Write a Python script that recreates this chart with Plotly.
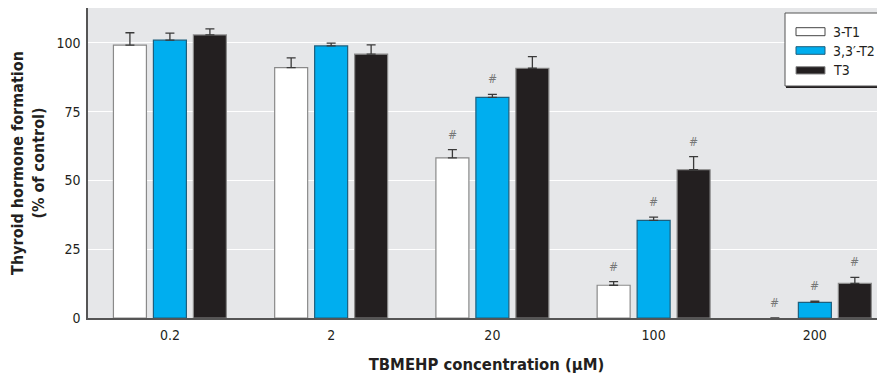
import plotly.graph_objects as go

categories = ["0.2", "2", "20", "100", "200"]
series_names = ["3-T1", "3,3′-T2", "T3"]
t1_values = [99.2, 91.0, 58.2, 11.9, 0.0]
t1_errors = [4.5, 3.6, 3.0, 1.3, None]
t2_values = [101.0, 98.9, 80.2, 35.5, 5.7]
t2_errors = [2.6, 1.0, 1.1, 1.2, 0.4]
t3_values = [102.9, 95.9, 90.8, 53.9, 12.6]
t3_errors = [2.2, 3.4, 4.2, 4.8, 2.2]
t1_sig = [False, False, True, True, True]
t2_sig = [False, False, True, True, True]
t3_sig = [False, False, False, True, True]
y_ticks = [0, 25, 50, 75, 100]

FONT = "DejaVu Sans Condensed, Liberation Sans Narrow, Roboto, sans-serif"
fills = ["#ffffff", "#00aeef", "#231f20"]
outlines = ["#8a8a8a", "#1d5f7d", "#8a8a8a"]

# page offset (body margin) and layout geometry
OFF = 8
W, H = 885 - OFF, 377 - OFF
L, R, T, B = 80, 0, 0, 59
pw, ph = W - L - R, H - T - B
xr = [-0.508, 4.435]
px_per_unit = pw / (xr[1] - xr[0])
bargap = 0.256
step_units = (1 - bargap) / 3

fig = go.Figure()
vals = [t1_values, t2_values, t3_values]
errs = [t1_errors, t2_errors, t3_errors]
sigs = [t1_sig, t2_sig, t3_sig]
for i in range(3):
    line_w = [1.2 if v > 0 else 0 for v in vals[i]]
    fig.add_trace(go.Bar(
        x=categories, y=vals[i], name=series_names[i],
        marker=dict(color=fills[i], line=dict(color=outlines[i], width=line_w)),
        error_y=dict(type="data", symmetric=False, array=errs[i],
                     arrayminus=[0 if e is not None else None for e in errs[i]],
                     color="#3a3a3a", thickness=1.3, width=4.5),
        showlegend=False,
    ))

# significance markers
for i in range(3):
    shift = (i - 1) * step_units * px_per_unit
    for j, c in enumerate(categories):
        if sigs[i][j]:
            top = vals[i][j] + (errs[i][j] or 0)
            fig.add_annotation(x=j, y=top, xref="x", yref="y",
                               text="<i>#</i>", showarrow=False, xshift=shift, yshift=15,
                               font=dict(family=FONT, size=12, color="#777777"))

# page pixel -> paper coords
def xp(px):
    return (px - OFF - L) / pw

def yp(py):
    return (H - B - (py - OFF)) / ph

# custom legend
shapes = []
shapes.append(dict(type="rect", xref="paper", yref="paper", x0=xp(786), x1=xp(900),
                   y0=yp(88), y1=yp(86), fillcolor="#231f20", line=dict(width=0)))
shapes.append(dict(type="rect", xref="paper", yref="paper", x0=xp(785), x1=xp(900),
                   y0=yp(86), y1=yp(13), fillcolor="white", line=dict(color="#555555", width=1)))
sw_y = [(27.7, 35.7), (46.7, 54.3), (66.7, 74.0)]
for i in range(3):
    shapes.append(dict(type="rect", xref="paper", yref="paper", x0=xp(796), x1=xp(825),
                       y0=yp(sw_y[i][1]), y1=yp(sw_y[i][0]), fillcolor=fills[i],
                       line=dict(color="#444444" if i == 0 else outlines[i], width=1)))
    fig.add_annotation(xref="paper", yref="paper", x=xp(831), y=yp((sw_y[i][0] + sw_y[i][1]) / 2),
                       text=series_names[i], showarrow=False, xanchor="left", yanchor="middle",
                       font=dict(family=FONT, size=14, color="#231f20"))

fig.update_layout(
    width=W, height=H,
    margin=dict(l=L, r=R, t=T, b=B),
    paper_bgcolor="white", plot_bgcolor="#e6e7e9",
    barmode="group", bargap=bargap, bargroupgap=0.175,
    shapes=shapes,
    font=dict(family=FONT, size=14, color="#231f20"),
    xaxis=dict(type="category", range=xr, showgrid=False, showline=True, linecolor="#555555", linewidth=1.5,
               ticks="", tickfont=dict(size=14), zeroline=False, ticklabelstandoff=3,
               title=dict(text="<b>TBMEHP concentration (µM)</b>", font=dict(size=16.5), standoff=17)),
    yaxis=dict(range=[0, 112.7], tickvals=y_ticks, showgrid=True, gridcolor="white", gridwidth=1.3,
               showline=True, linecolor="#555555", linewidth=1.5, ticks="", zeroline=False,
               tickfont=dict(size=14), ticklabelstandoff=3,
               title=dict(text="<b>Thyroid hormone formation<br>(% of control)</b>", font=dict(size=16), standoff=15)),
)
fig.write_html("out.html")
